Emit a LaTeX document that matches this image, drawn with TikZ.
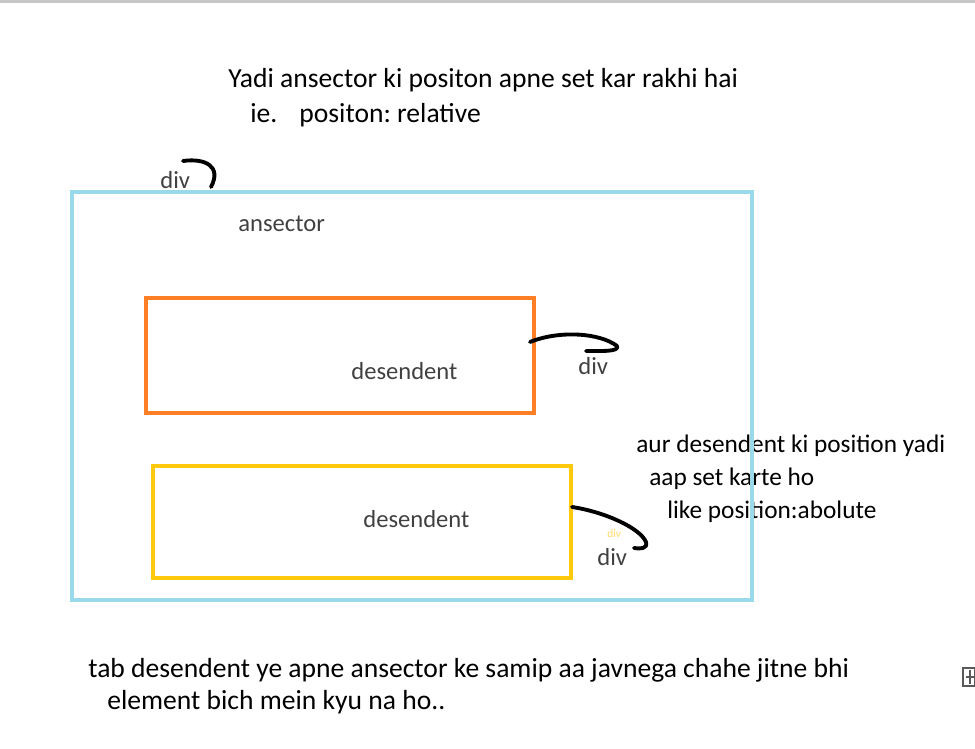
\documentclass[tikz,border=0pt]{standalone}
\usepackage{fontspec}
\setmainfont{Carlito}
\usepackage{xcolor}
\definecolor{boxBlue}{HTML}{99D9EA}
\definecolor{boxOrange}{HTML}{FF7F27}
\definecolor{boxYellow}{HTML}{FFC90E}
\definecolor{tinyYellow}{HTML}{FFD966}
\definecolor{labelGray}{HTML}{404040}
\usetikzlibrary{positioning}
\frenchspacing

\begin{document}
\begin{tikzpicture}[x=0.02cm, y=-0.02cm,
    note/.style={anchor=base west, inner sep=0pt, font=\fontsize{15.7}{18}\selectfont},
    sidenote/.style={note, font=\fontsize{14.4}{17}\selectfont},
    tag/.style={anchor=base west, inner sep=0pt, text=labelGray, font=\fontsize{14}{16}\selectfont},
    hook/.style={line width=2.2pt, line cap=round, line join=round},
    frame/.style={line width=2.2pt}]

    % --- page margins ---
    \useasboundingbox (0,0) rectangle (975,749);
    \fill[gray!45] (0,0) rectangle (975,3);

    % --- heading ---
    \node[note] (head1) at (228,88) {Yadi ansector ki positon apne set kar rakhi hai};
    \node[note] (head2) at (250,123) {ie.\hspace{0.8em}positon: relative};

    % --- right hand note (under the blue frame) ---
    \node[sidenote] (side1) at (636,453) {aur desendent ki position yadi};
    \node[sidenote] (side2) at (649,486) {aap set karte ho};
    \node[sidenote] (side3) at (667,519) {like position:abolute};

    % --- ancestor box ---
    \draw[frame, boxBlue] (72,192) rectangle (752,600);
    \node[tag] (divA) at (160,189) {div};
    \node[tag] (anc) at (238,232) {ansector};
    \draw[hook] (183,161) .. controls (205,158) and (222,166) .. (211,187);

    % --- first descendant ---
    \draw[frame, boxOrange] (146,298) rectangle (534,413);
    \node[tag] (descA) at (351,380) {desendent};
    \node[tag] (divB) at (578,375) {div};
    \draw[hook] (530,342) .. controls (560,330) and (600,333) .. (617,346)
        .. controls (620,352) and (600,351) .. (586,351);

    % --- second descendant ---
    \draw[frame, boxYellow] (153,466) rectangle (571,578);
    \node[tag] (descB) at (363,528) {desendent};
    \node[tag] (divC) at (597,566) {div};
    \node[anchor=base west, inner sep=0pt, text=tinyYellow, font=\fontsize{6.5}{7}\selectfont] (divD) at (607,538) {div};
    \draw[hook] (572,507) .. controls (605,512) and (640,528) .. (646,542)
        .. controls (648,549) and (640,549) .. (634,548);

    % --- closing remark ---
    \node[note] (foot1) at (88,678) {tab desendent ye apne ansector ke samip aa javnega chahe jitne bhi};
    \node[note] (foot2) at (107,710) {element bich mein kyu na ho..};

    % --- move handle at the edge ---
    \draw[gray!70!black, line width=0.6pt] (963,668) rectangle (975,686);
    \draw[gray!70!black, line width=0.6pt] (966,677) -- (975,677) (970,670) -- (970,684);
\end{tikzpicture}
\end{document}
